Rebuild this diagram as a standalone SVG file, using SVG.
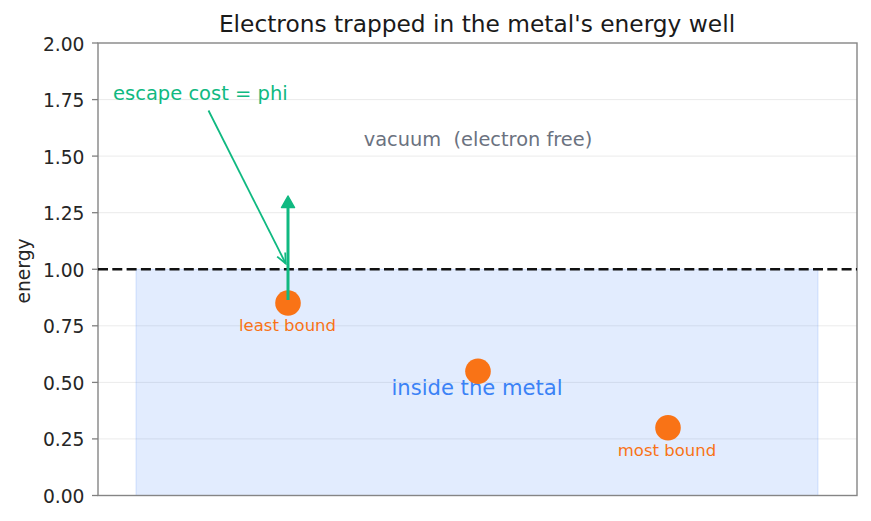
<svg xmlns="http://www.w3.org/2000/svg" width="871" height="521" viewBox="0 0 871 521">
<style>
text{font-family:"DejaVu Sans","Liberation Sans",sans-serif}
.tick{font-size:18.7px;fill:#262626;text-anchor:end}
.grid{stroke:#ebebeb;stroke-width:1}
.tm{stroke:#808080;stroke-width:1.3}
.lbl{font-size:16.5px;fill:#f97316;text-anchor:middle}
.dot{fill:#f97316}
</style>
<defs>
<marker id="open" viewBox="-12 -7 14 14" markerWidth="14" markerHeight="14" refX="0" refY="0" orient="auto" markerUnits="userSpaceOnUse">
<path d="M-10,-4.5 L0,0 L-10,4.5" fill="none" stroke="#10b981" stroke-width="1.8"/>
</marker>
</defs>
<rect width="871" height="521" fill="#ffffff"/>
<text x="477" y="32" font-size="23.3" fill="#1a1a1a" text-anchor="middle">Electrons trapped in the metal's energy well</text>
<g id="grid">
<line class="grid" x1="98" y1="99.6" x2="857" y2="99.6"/>
<line class="grid" x1="98" y1="156.1" x2="857" y2="156.1"/>
<line class="grid" x1="98" y1="212.7" x2="857" y2="212.7"/>
<line class="grid" x1="98" y1="325.8" x2="857" y2="325.8"/>
<line class="grid" x1="98" y1="382.4" x2="857" y2="382.4"/>
<line class="grid" x1="98" y1="438.9" x2="857" y2="438.9"/>
</g>
<g id="metal">
<rect x="136" y="269.25" width="682" height="226.25" fill="#3b82f6" fill-opacity="0.15" stroke="#3b82f6" stroke-opacity="0.18" stroke-width="1"/>
<text x="477" y="395" font-size="21.1" fill="#3b82f6" text-anchor="middle">inside the metal</text>
</g>
<g id="vacuum">
<text x="478" y="146" font-size="19.4" fill="#6b7280" text-anchor="middle" style="white-space:pre" xml:space="preserve">vacuum  (electron free)</text>
</g>
<g id="axes">
<rect x="98" y="43" width="759" height="452.5" fill="none" stroke="#858585" stroke-width="1.4"/>
<line class="tm" x1="92" y1="43" x2="98" y2="43"/>
<line class="tm" x1="92" y1="99.6" x2="98" y2="99.6"/>
<line class="tm" x1="92" y1="156.1" x2="98" y2="156.1"/>
<line class="tm" x1="92" y1="212.7" x2="98" y2="212.7"/>
<line class="tm" x1="92" y1="269.25" x2="98" y2="269.25"/>
<line class="tm" x1="92" y1="325.8" x2="98" y2="325.8"/>
<line class="tm" x1="92" y1="382.4" x2="98" y2="382.4"/>
<line class="tm" x1="92" y1="438.9" x2="98" y2="438.9"/>
<line class="tm" x1="92" y1="495.5" x2="98" y2="495.5"/>
<text class="tick" x="84.5" y="50.5">2.00</text>
<text class="tick" x="84.5" y="107">1.75</text>
<text class="tick" x="84.5" y="163.5">1.50</text>
<text class="tick" x="84.5" y="220">1.25</text>
<text class="tick" x="84.5" y="276.5">1.00</text>
<text class="tick" x="84.5" y="333">0.75</text>
<text class="tick" x="84.5" y="389.5">0.50</text>
<text class="tick" x="84.5" y="446">0.25</text>
<text class="tick" x="84.5" y="502.5">0.00</text>
<text x="0" y="0" font-size="18.7" fill="#262626" text-anchor="middle" transform="translate(30 271) rotate(-90)">energy</text>
</g>
<g id="work-function-level">
<line x1="98" y1="269.25" x2="857" y2="269.25" stroke="#111111" stroke-width="2.4" stroke-dasharray="10 4.3"/>
</g>
<g id="electron-least">
<circle class="dot" cx="288" cy="303" r="12.8"/>
<text class="lbl" x="287.5" y="331">least bound</text>
</g>
<g id="electron-mid">
<circle class="dot" cx="478" cy="371.3" r="12.8"/>
</g>
<g id="electron-most">
<circle class="dot" cx="668" cy="427.7" r="12.8"/>
<text class="lbl" x="667" y="456">most bound</text>
</g>
<g id="connectors">
<line x1="288" y1="300" x2="288" y2="205" stroke="#10b981" stroke-width="3"/>
<polygon points="288,196 294.5,207.5 281.5,207.5" fill="#10b981" stroke="#10b981" stroke-width="1.5" stroke-linejoin="round"/>
<line x1="208.5" y1="110.5" x2="285.7" y2="263.5" stroke="#10b981" stroke-width="1.8" marker-end="url(#open)"/>
</g>
<g id="annotation">
<text x="113" y="100" font-size="19.5" fill="#10b981">escape cost = phi</text>
</g>
</svg>
